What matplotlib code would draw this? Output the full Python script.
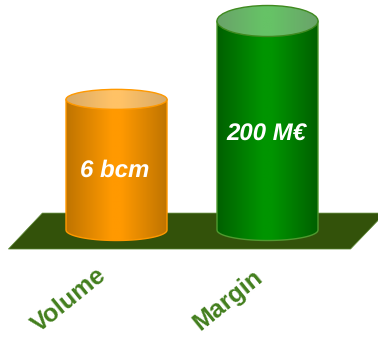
import matplotlib
matplotlib.use('Agg')
import matplotlib.pyplot as plt
import numpy as np
from matplotlib.colors import LinearSegmentedColormap
from matplotlib.patches import Ellipse, PathPatch, Polygon
from matplotlib.path import Path

categories = ['Volume', 'Margin']
values = [6, 200]
value_labels = ['6 bcm', '200 M€']
# each metric has its own unit, so each one gets its own full scale
full_scale = [9.6, 200]

body_colors = [['#bf7400', '#ff9900', '#ff9900', '#bf7400'],
               ['#006000', '#009400', '#009400', '#006000']]
top_colors = [['#d8aa68', '#ffc266', '#ffc266', '#d8aa68'],
              ['#6aa36a', '#66c266', '#66c266', '#6aa36a']]
edge_colors = ['#ff9900', '#4f9a2f']
top_edges = ['#ff9900', '#3f8a1f']

plt.rcParams['font.family'] = ['Liberation Sans', 'DejaVu Sans']
plt.rcParams['text.hinting'] = 'none'
plt.rcParams['text.hinting_factor'] = 1

fig = plt.figure(figsize=(3.78, 3.38), dpi=100)
ax = fig.add_axes([0, 0, 1, 1])
ax.axis('off')

half_w = 50.5 / 151
top_h = [10 / 209, 15.5 / 209]
foot_h = 10.5 / 209
label_dx = [-0.314, -0.265]
value_y = [0.282, 0.457]

# floor plate
floor = np.array([[-0.716, -0.091], [-0.491, 0.081], [1.735, 0.081], [1.735, 0.048], [1.55, -0.091]])
ax.add_patch(Polygon(floor, closed=True, fc='#33520a', ec='#5d8a35', lw=0.5, zorder=1))


def gradient(x0, x1, y0, y1, colors, clip, zorder):
    cmap = LinearSegmentedColormap.from_list('shade', list(zip([0, 0.45, 0.55, 1], colors)))
    img = ax.imshow(np.linspace(0, 1, 200).reshape(1, -1), cmap=cmap, extent=[x0, x1, y0, y1],
                    aspect='auto', zorder=zorder, interpolation='bilinear')
    img.set_clip_path(clip)


theta = np.linspace(np.pi, 2 * np.pi, 60)
for i, cat in enumerate(categories):
    h = values[i] / full_scale[i]
    xs = i + half_w * np.cos(theta)
    ys = foot_h * np.sin(theta)
    pts = np.vstack([np.column_stack([xs, ys]), [[i + half_w, h], [i - half_w, h]], [[xs[0], ys[0]]]])
    body = PathPatch(Path(pts, closed=False), fc='none', ec=edge_colors[i], lw=1.0, zorder=3,
                     transform=ax.transData)
    ax.add_patch(body)
    gradient(i - half_w, i + half_w, -foot_h, h, body_colors[i], body, 2)

    top = Ellipse((i, h), 2 * half_w, 2 * top_h[i], fc='none', ec=top_edges[i], lw=1.0, zorder=5)
    ax.add_patch(top)
    gradient(i - half_w, i + half_w, h - top_h[i], h + top_h[i], top_colors[i], top, 4)

    ax.text(i - 0.01, value_y[i], value_labels[i], color='white', fontsize=17,
            fontweight='bold', fontstyle='italic', ha='center', va='center', zorder=6)
    ax.text(i + label_dx[i], -0.335, cat, color='#437f1e', fontsize=18, fontweight='bold', rotation=39,
            rotation_mode='anchor', ha='center', va='center', zorder=6)

# 151 px between the cylinders, 209 px for a full scale bar
ax.set_xlim(-116.5 / 151, (378 - 116.5) / 151)
ax.set_ylim(-(338 - 230) / 209, 230 / 209)
fig.savefig('out.png', dpi=100)
